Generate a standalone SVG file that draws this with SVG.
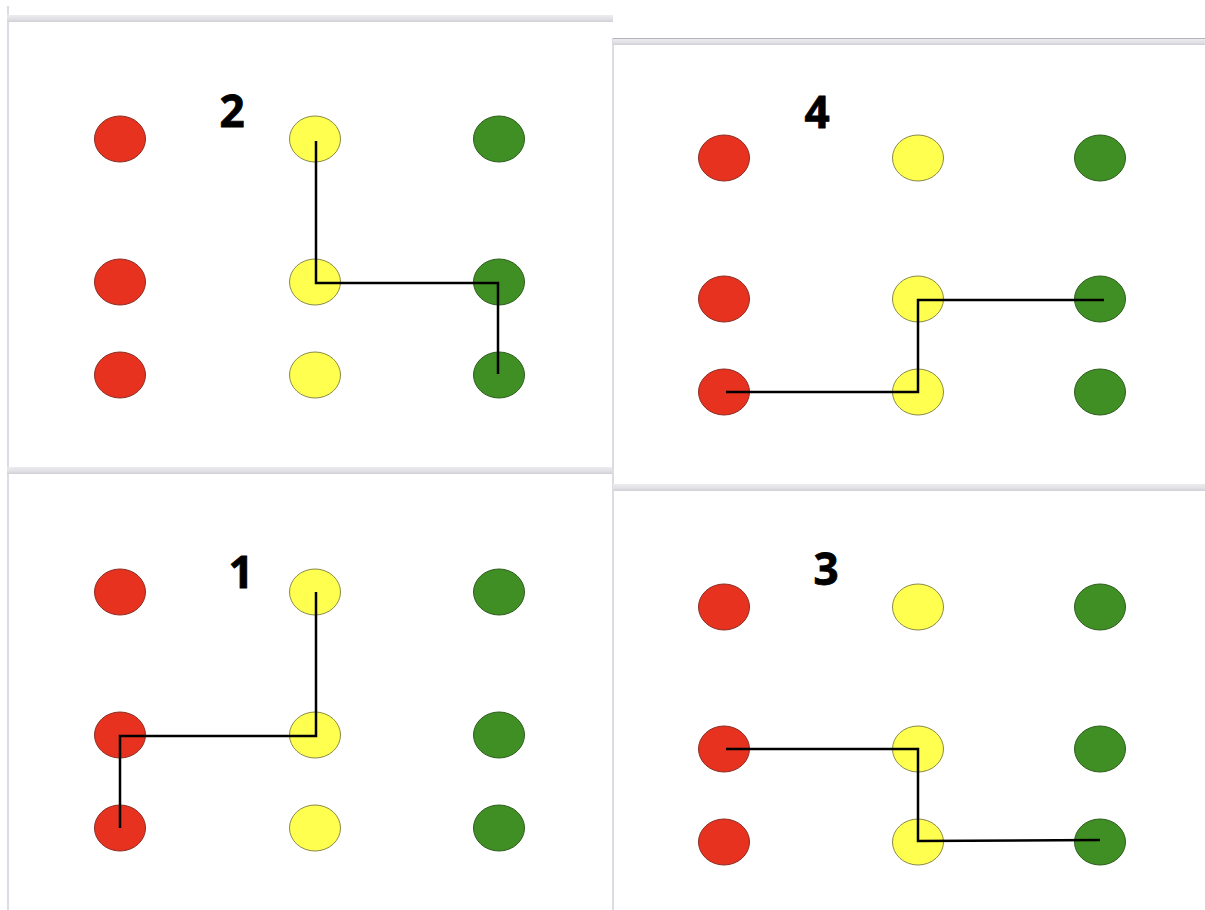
<svg xmlns="http://www.w3.org/2000/svg" width="1205" height="910" viewBox="0 0 1205 910">
  <defs>
    <linearGradient id="band" x1="0" y1="0" x2="0" y2="1">
      <stop offset="0" stop-color="#ececf0"/>
      <stop offset="0.6" stop-color="#e0e0e5"/>
      <stop offset="1" stop-color="#cfcfd6"/>
    </linearGradient>
  </defs>
  <style>
    .red { fill: #e7321f; stroke: #8c2c22; stroke-width: 1; }
    .yel { fill: #ffff50; stroke: #8a8a45; stroke-width: 1; }
    .grn { fill: #3f8f25; stroke: #2d5d1c; stroke-width: 1; }
    .path { fill: none; stroke: #000; stroke-width: 2.5; stroke-linejoin: miter; }
    .lbl { font-family: "Open Sans", "Liberation Sans", sans-serif; font-weight: bold; font-size: 44px; fill: #000; stroke: #000; stroke-width: 0.8; text-anchor: middle; }
    .vb { fill: #dcdce2; }
  </style>
  <rect width="1205" height="910" fill="#ffffff"/>

  <!-- panel frames -->
  <g id="frames">
    <rect class="vb" x="7" y="6" width="2" height="904"/>
    <rect x="7" y="15" width="606" height="7" fill="url(#band)"/>
    <rect x="7" y="467" width="606" height="7" fill="url(#band)"/>
    <rect class="vb" x="612" y="38" width="2" height="872"/>
    <rect x="613" y="38" width="592" height="1" fill="#b4b4ba"/>
    <rect x="613" y="39" width="592" height="6" fill="url(#band)"/>
    <rect x="613" y="484" width="592" height="7" fill="url(#band)"/>
  </g>

  <!-- Panel 2 (top-left) -->
  <g id="panel2">
    <text class="lbl" x="232" y="127">2</text>
    <ellipse class="red" cx="120" cy="139" rx="25.5" ry="23"/>
    <ellipse class="yel" cx="315" cy="139" rx="25.5" ry="23"/>
    <ellipse class="grn" cx="499" cy="139" rx="25.5" ry="23"/>
    <ellipse class="red" cx="120" cy="282" rx="25.5" ry="23"/>
    <ellipse class="yel" cx="315" cy="282" rx="25.5" ry="23"/>
    <ellipse class="grn" cx="499" cy="282" rx="25.5" ry="23"/>
    <ellipse class="red" cx="120" cy="375" rx="25.5" ry="23"/>
    <ellipse class="yel" cx="315" cy="375" rx="25.5" ry="23"/>
    <ellipse class="grn" cx="499" cy="375" rx="25.5" ry="23"/>
  </g>

  <!-- Panel 4 (top-right) -->
  <g id="panel4">
    <text class="lbl" x="817" y="128">4</text>
    <ellipse class="red" cx="724" cy="158" rx="25.5" ry="23"/>
    <ellipse class="yel" cx="918" cy="158" rx="25.5" ry="23"/>
    <ellipse class="grn" cx="1100" cy="158" rx="25.5" ry="23"/>
    <ellipse class="red" cx="724" cy="299" rx="25.5" ry="23"/>
    <ellipse class="yel" cx="918" cy="299" rx="25.5" ry="23"/>
    <ellipse class="grn" cx="1100" cy="299" rx="25.5" ry="23"/>
    <ellipse class="red" cx="724" cy="392" rx="25.5" ry="23"/>
    <ellipse class="yel" cx="918" cy="392" rx="25.5" ry="23"/>
    <ellipse class="grn" cx="1100" cy="392" rx="25.5" ry="23"/>
  </g>

  <!-- Panel 1 (bottom-left) -->
  <g id="panel1">
    <text class="lbl" x="241" y="588">1</text>
    <ellipse class="red" cx="120" cy="592" rx="25.5" ry="23"/>
    <ellipse class="yel" cx="315" cy="592" rx="25.5" ry="23"/>
    <ellipse class="grn" cx="499" cy="592" rx="25.5" ry="23"/>
    <ellipse class="red" cx="120" cy="735" rx="25.5" ry="23"/>
    <ellipse class="yel" cx="315" cy="735" rx="25.5" ry="23"/>
    <ellipse class="grn" cx="499" cy="735" rx="25.5" ry="23"/>
    <ellipse class="red" cx="120" cy="828" rx="25.5" ry="23"/>
    <ellipse class="yel" cx="315" cy="828" rx="25.5" ry="23"/>
    <ellipse class="grn" cx="499" cy="828" rx="25.5" ry="23"/>
  </g>

  <!-- Panel 3 (bottom-right) -->
  <g id="panel3">
    <text class="lbl" x="826" y="585">3</text>
    <ellipse class="red" cx="724" cy="607" rx="25.5" ry="23"/>
    <ellipse class="yel" cx="918" cy="607" rx="25.5" ry="23"/>
    <ellipse class="grn" cx="1100" cy="607" rx="25.5" ry="23"/>
    <ellipse class="red" cx="724" cy="749" rx="25.5" ry="23"/>
    <ellipse class="yel" cx="918" cy="749" rx="25.5" ry="23"/>
    <ellipse class="grn" cx="1100" cy="749" rx="25.5" ry="23"/>
    <ellipse class="red" cx="724" cy="842" rx="25.5" ry="23"/>
    <ellipse class="yel" cx="918" cy="842" rx="25.5" ry="23"/>
    <ellipse class="grn" cx="1100" cy="842" rx="25.5" ry="23"/>
  </g>

  <!-- connectors -->
  <g id="connectors">
    <polyline class="path" points="316,141 316,283 498,283 498,374"/>
    <polyline class="path" points="726,392 918,392 918,300 1104,300"/>
    <polyline class="path" points="316,592 316,736 120,736 120,828"/>
    <polyline class="path" points="726,749 918,749 918,841 1100,840"/>
  </g>
</svg>
